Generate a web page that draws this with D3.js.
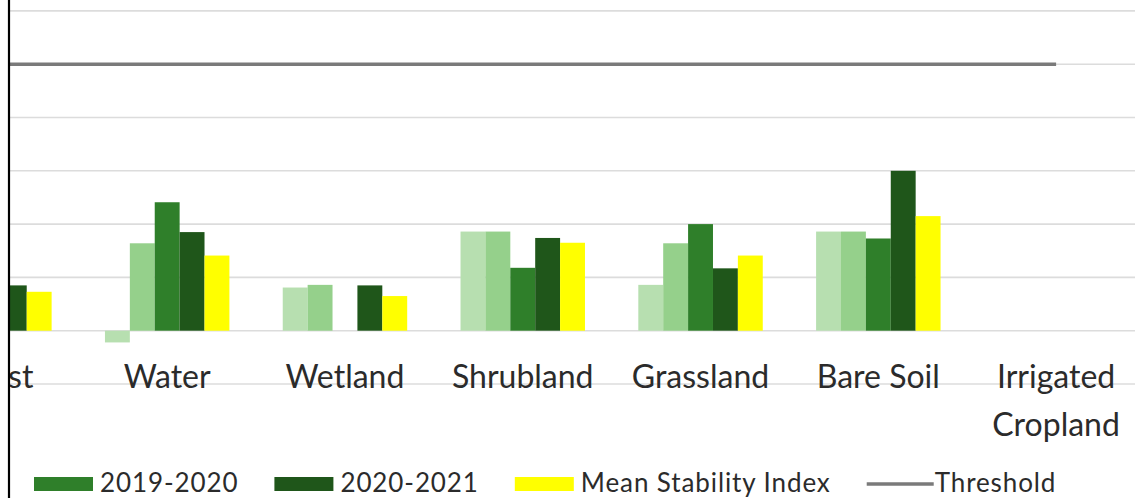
<!DOCTYPE html>
<html>
<head>
<meta charset="utf-8">
<script src="https://cdn.jsdelivr.net/npm/d3@7"></script>
<style>
  html, body { margin: 0; padding: 0; background: #ffffff; }
  svg { display: block; }
  text { font-family: Lato, "Open Sans", sans-serif; fill: #2b2b2b; }
</style>
</head>
<body>
<svg id="chart" width="1135" height="498"></svg>
<script>
// Land cover classes along the x axis
const categories = ["Forest", "Water", "Wetland", "Shrubland", "Grassland", "Bare Soil", "Irrigated Cropland"];

// Stability index per period (null = no value shown)
const series2017_2018 = [null, -0.022, 0.081, 0.186, 0.086, 0.186, 0];
const series2018_2019 = [null, 0.164, 0.086, 0.186, 0.164, 0.186, 0];
const series2019_2020 = [null, 0.241, 0, 0.118, 0.200, 0.173, 0];
const series2020_2021 = [0.085, 0.185, 0.085, 0.174, 0.117, 0.300, 0];
const meanStability   = [0.073, 0.141, 0.065, 0.165, 0.141, 0.215, 0];
const threshold       = [0.5, 0.5, 0.5, 0.5, 0.5, 0.5, 0.5];

const seriesNames = ["2017-2018", "2018-2019", "2019-2020", "2020-2021", "Mean Stability Index"];
const seriesValues = [series2017_2018, series2018_2019, series2019_2020, series2020_2021, meanStability];
const seriesColors = ["#b7dfb0", "#95d08b", "#2f7f2a", "#1f561a", "#ffff00"];

// Legend entries that fit in the frame
const legendSeries = ["2019-2020", "2020-2021", "Mean Stability Index"];

const yTicks = [-0.1, 0, 0.1, 0.2, 0.3, 0.4, 0.5, 0.6];

const svg = d3.select("#chart");
const W = 1135, H = 498;
const plotLeft = 10;

// clip everything to the right of the frame edge
svg.append("defs").append("clipPath").attr("id", "plotClip")
  .append("rect").attr("x", plotLeft).attr("y", 0).attr("width", W - plotLeft).attr("height", H);

const x = d3.scaleBand()
  .domain(categories)
  .range([-99.5, 1145])
  .paddingInner(0.3)
  .paddingOuter(0.15);

const xInner = d3.scaleBand()
  .domain(seriesNames)
  .range([0, x.bandwidth()]);

const y = d3.scaleLinear()
  .domain([-0.1, 0.6])
  .range([384, 10.9]);

const g = svg.append("g").attr("clip-path", "url(#plotClip)");

// horizontal gridlines
g.append("g")
  .selectAll("line")
  .data(yTicks)
  .join("line")
  .attr("x1", plotLeft)
  .attr("x2", W)
  .attr("y1", d => y(d))
  .attr("y2", d => y(d))
  .attr("stroke", "#dcdcdc")
  .attr("stroke-width", 1.6);

// grouped bars
const barData = [];
categories.forEach((c, i) => {
  seriesNames.forEach((s, j) => {
    const v = seriesValues[j][i];
    if (v !== null && v !== 0) barData.push({ c, s, v, color: seriesColors[j] });
  });
});

g.append("g")
  .selectAll("rect")
  .data(barData)
  .join("rect")
  .attr("x", d => x(d.c) + xInner(d.s))
  .attr("width", xInner.bandwidth())
  .attr("y", d => y(Math.max(0, d.v)))
  .attr("height", d => Math.abs(y(d.v) - y(0)))
  .attr("fill", d => d.color);

// threshold line through category centres
const line = d3.line()
  .x((d, i) => x(categories[i]) + x.bandwidth() / 2)
  .y(d => y(d));

g.append("path")
  .datum(threshold)
  .attr("d", line)
  .attr("fill", "none")
  .attr("stroke", "#7a7a7a")
  .attr("stroke-width", 3.5);

// category labels (wrapped on spaces when too wide)
const labelG = g.append("g");
categories.forEach(c => {
  const cx = x(c) + x.bandwidth() / 2;
  const lines = c === "Irrigated Cropland" ? ["Irrigated", "Cropland"] : [c];
  const t = labelG.append("text")
    .attr("x", cx)
    .attr("y", 388)
    .attr("text-anchor", "middle")
    .style("font-size", "32px");
  lines.forEach((ln, k) => {
    t.append("tspan").attr("x", cx).attr("dy", k === 0 ? 0 : 48).text(ln);
  });
});

// legend
const legend = svg.append("g");
let lx = 34;
const ly = 484;
const legendItems = legendSeries.map(s => ({ name: s, type: "rect", color: seriesColors[seriesNames.indexOf(s)] }))
  .concat([{ name: "Threshold", type: "line", color: "#7a7a7a" }]);

legendItems.forEach(item => {
  let textX;
  if (item.type === "rect") {
    legend.append("rect")
      .attr("x", lx).attr("y", ly - 7).attr("width", 59).attr("height", 14)
      .attr("fill", item.color);
    textX = lx + 66;
  } else {
    legend.append("line")
      .attr("x1", lx).attr("x2", lx + 67).attr("y1", ly).attr("y2", ly)
      .attr("stroke", item.color).attr("stroke-width", 3.5);
    textX = lx + 68;
  }
  const t = legend.append("text")
    .attr("x", textX).attr("y", ly + 8)
    .style("font-size", "26px")
    .style("letter-spacing", "0.9px")
    .text(item.name);
  lx = textX + t.node().getComputedTextLength() + 36;
});

// left frame edge
svg.append("line")
  .attr("x1", 9).attr("x2", 9).attr("y1", 0).attr("y2", H)
  .attr("stroke", "#000").attr("stroke-width", 2.2);
</script>
</body>
</html>
